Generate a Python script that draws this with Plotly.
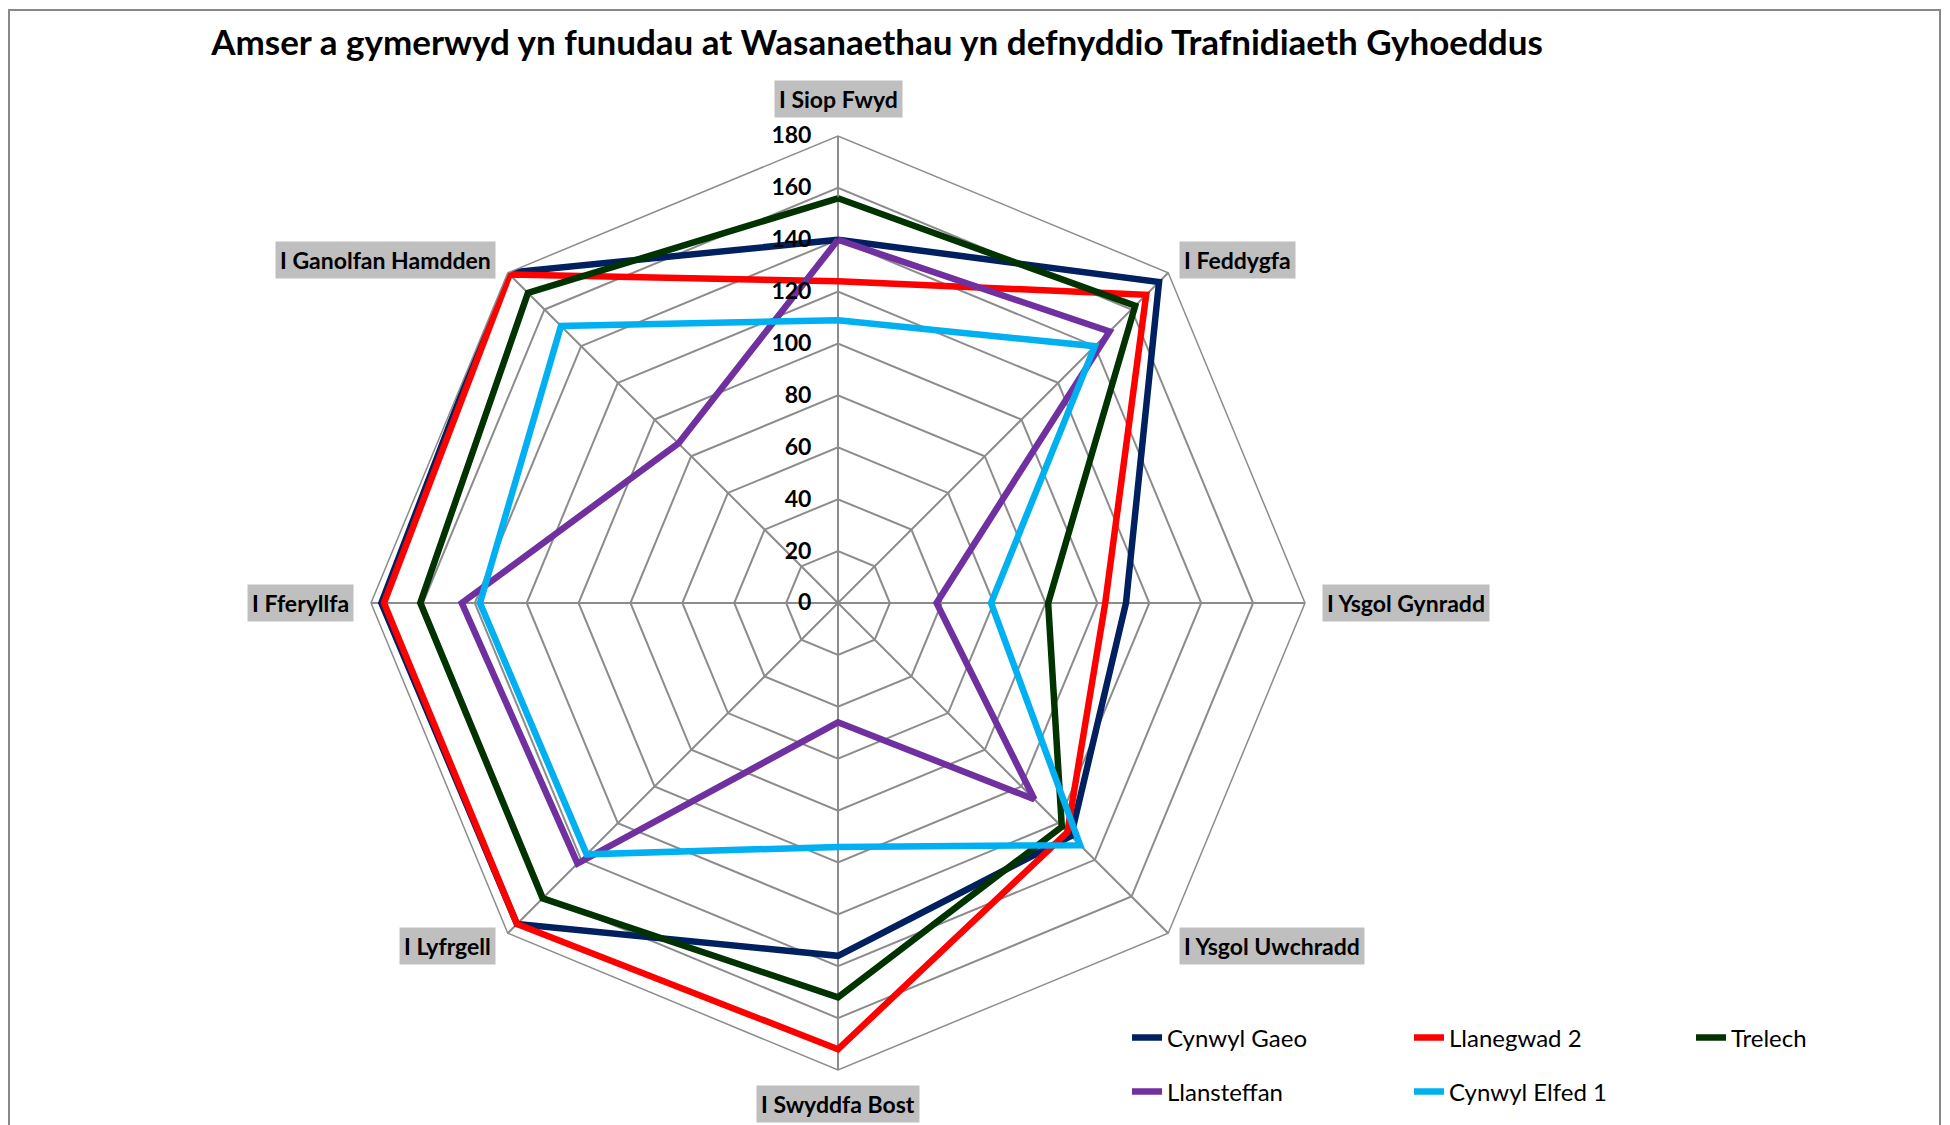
import plotly.graph_objects as go

categories = ["I Siop Fwyd", "I Feddygfa", "I Ysgol Gynradd", "I Ysgol Uwchradd",
              "I Swyddfa Bost", "I Lyfrgell", "I Fferyllfa", "I Ganolfan Hamdden"]

cynwyl_gaeo = [140, 175, 111, 127, 136, 175, 176, 180]
llanegwad_2 = [124, 168, 103, 125, 172, 175, 175, 179]
trelech = [156, 162, 81, 122, 152, 161, 161, 169]
llansteffan = [140, 148, 38, 107, 46, 142, 145, 87]
cynwyl_elfed_1 = [109, 140, 59, 132, 94, 137, 138, 151]

series_names = ["Cynwyl Gaeo", "Llanegwad 2", "Trelech", "Llansteffan", "Cynwyl Elfed 1"]
series_values = [cynwyl_gaeo, llanegwad_2, trelech, llansteffan, cynwyl_elfed_1]
series_colors = ["#002060", "#FF0000", "#003300", "#7030A0", "#00B0F0"]
series_legend = ["legend", "legend", "legend", "legend2", "legend2"]

radial_ticks = [0, 20, 40, 60, 80, 100, 120, 140, 160, 180]

title_text = "Amser a gymerwyd yn funudau at Wasanaethau yn defnyddio Trafnidiaeth Gyhoeddus"

W, H = 1950, 1125
OFF = 8  # page body margin
FONT = "Lato"
GRID = "#8c8c8c"


def px_x(x):
    return (x - OFF) / W


def px_y(y):
    return 1 - (y - OFF) / H


fig = go.Figure()
for name, vals, col, lg in zip(series_names, series_values, series_colors, series_legend):
    fig.add_trace(go.Scatterpolar(
        r=vals + vals[:1],
        theta=categories + categories[:1],
        mode="lines",
        name=name,
        legend=lg,
        line=dict(color=col, width=6.5),
    ))
fig.data[2].legendwidth = 100

cx, cy, R = 838, 603, 467
legend_common = dict(
    orientation="h", x=px_x(1127), xanchor="left", yanchor="middle",
    entrywidth=237, entrywidthmode="pixels",
    font=dict(size=24, family=FONT, color="black"),
    bgcolor="rgba(0,0,0,0)", traceorder="normal",
)
fig.update_layout(
    width=W, height=H,
    margin=dict(l=0, r=0, t=0, b=0, autoexpand=False),
    paper_bgcolor="white",
    plot_bgcolor="white",
    font=dict(family=FONT, color="black"),
    title=dict(text="<b>" + title_text + "</b>", x=px_x(877), xanchor="center",
               y=px_y(43), yanchor="middle", font=dict(size=35, family=FONT, color="black")),
    polar=dict(
        domain=dict(x=[px_x(cx - R), px_x(cx + R)], y=[px_y(cy + R), px_y(cy - R)]),
        gridshape="linear",
        bgcolor="white",
        radialaxis=dict(
            range=[0, 180], tickvals=radial_ticks, ticktext=["<b>%d</b>" % t for t in radial_ticks],
            angle=90, tickangle=90, side="counterclockwise",
            showline=False, ticks="outside", ticklen=18, tickcolor="rgba(0,0,0,0)",
            gridcolor=GRID, gridwidth=1.5,
            tickfont=dict(size=23, family=FONT, color="black"),
        ),
        angularaxis=dict(
            direction="clockwise", rotation=90, showticklabels=False, ticks="",
            gridcolor=GRID, gridwidth=1.5, showline=True, linecolor=GRID, linewidth=1.5,
        ),
    ),
    legend=dict(y=px_y(1038), **legend_common),
    legend2=dict(y=px_y(1092), **legend_common),
    showlegend=True,
)

label_pos = [
    (838, 99, "center"),
    (1179, 260, "left"),
    (1322, 603, "left"),
    (1179, 946, "left"),
    (838, 1104, "center"),
    (496, 946, "right"),
    (354, 603, "right"),
    (496, 260, "right"),
]
for cat, (px, py, xa) in zip(categories, label_pos):
    fig.add_annotation(
        x=px_x(px), y=px_y(py), xref="paper", yref="paper",
        text="<b>" + cat + "</b>", showarrow=False, xanchor=xa, yanchor="middle",
        bgcolor="#bfbfbf", borderpad=4,
        font=dict(size=23, family=FONT, color="black"),
    )

fig.add_shape(type="rect", xref="paper", yref="paper",
              x0=px_x(9), x1=px_x(1940), y0=-0.05, y1=px_y(10),
              line=dict(color="#898989", width=2), fillcolor="rgba(0,0,0,0)", layer="below")

fig.write_html("out.html")
